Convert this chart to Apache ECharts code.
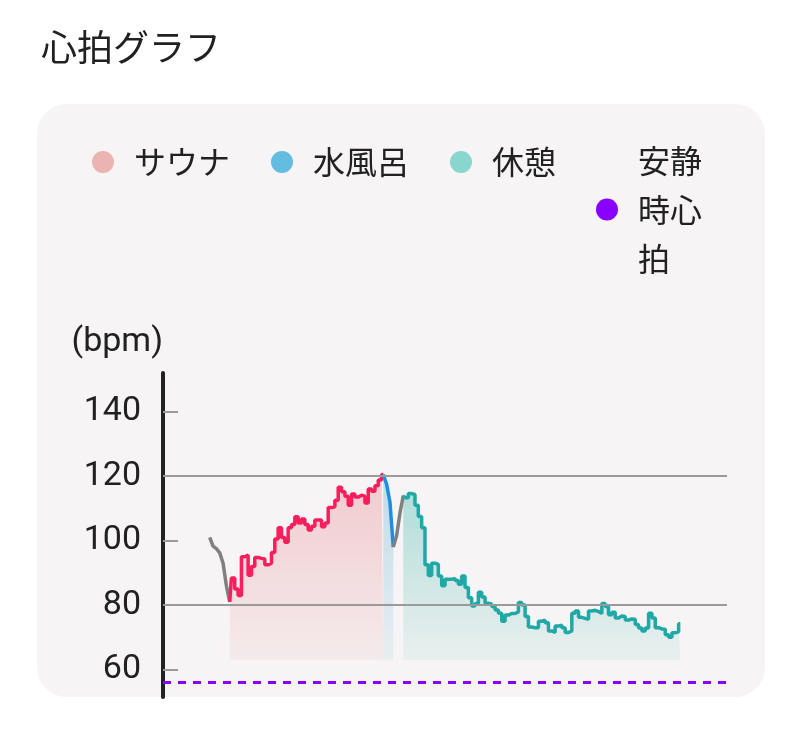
<!DOCTYPE html>
<html>
<head>
<meta charset="utf-8">
<script src="https://cdn.jsdelivr.net/npm/echarts@6/dist/echarts.min.js"></script>
<style>
  html, body { margin: 0; padding: 0; background: #ffffff; }
  #wrap { position: relative; width: 800px; height: 747px; overflow: hidden; }
  #card { position: absolute; left: 37px; top: 104px; width: 728px; height: 593px; border-radius: 30px; background: #f6f4f4; }
  #chart { position: absolute; left: 0; top: 0; width: 800px; height: 747px; }
</style>
</head>
<body>
<div id="wrap">
  <div id="card"></div>
  <div id="chart"></div>
</div>
<script>
// ---- data (sample index -> bpm) ----
const titleText = '心拍グラフ';
const legendNames = ['サウナ', '水風呂', '休憩', '安静時心拍'];
const yTickValues = [60, 80, 100, 120, 140];
const gridValues = [80, 120];
const restingHR = 56;

const preStart = 14;
const preHR = [101, 98.3, 97.5, 96.2, 93, 86, 81];

const saunaStart = 20;
const saunaHR = [81, 88.4, 85, 83, 95, 95.5, 89.3, 92, 94.8, 94.5,
  94.3, 92.5, 93, 96.3, 100.5, 104, 101, 99.5, 104, 105,
  107.4, 105.5, 106.7, 105, 103.3, 104.5, 106.4, 106.4, 104.3, 105.5,
  110.3, 110.5, 112.5, 116.6, 115.2, 113.8, 111, 114.5, 113.5, 114.1,
  113.8, 111.7, 116, 115.3, 117, 118.8, 120.5];

const waterStart = 66;
const waterHR = [120.5, 117.5, 112, 98];

const transStart = 69;
const transHR = [98, 101.5, 108.5, 114];

const restStart = 72;
const restHR = [114, 113.3, 114.6, 114.3, 111, 107.5, 104, 92.5, 89.2, 93,
  92.6, 89, 86, 88, 88, 88.3, 87.6, 86.5, 89, 85.5,
  82.3, 79.7, 80.5, 84, 82.5, 80.6, 80.3, 79.6, 78.5, 77.5,
  75, 76.9, 77.4, 77.4, 77.9, 80.8, 80, 76.5, 73.2, 73,
  73, 75, 75.3, 74.5, 72, 71.5, 73.5, 73.8, 73, 71.5,
  72, 77.5, 78.2, 76.2, 75.9, 75.6, 78.2, 78.4, 78, 77.4,
  80.5, 79.6, 77, 77.8, 76, 76.6, 76.5, 75.4, 75.7, 75.6,
  74, 72.9, 72, 72.9, 77.5, 76, 73, 72.6, 72.5, 70.8,
  70, 71.4, 71.7, 74.2];

const xMin = 0, xMax = 169;
const yMin = 51.5, yMax = 152;
const areaBase = 63;

// ---- build ----
const toPts = (start, arr) => arr.map((v, i) => [start + i, v]);

function grad(rgb, a0, a1) {
  return new echarts.graphic.LinearGradient(0, 0, 0, 1, [
    { offset: 0, color: 'rgba(' + rgb + ',' + a0 + ')' },
    { offset: 1, color: 'rgba(' + rgb + ',' + a1 + ')' }
  ]);
}

const chart = echarts.init(document.getElementById('chart'), null, { renderer: 'canvas' });

const baseLine = { type: 'line', showSymbol: false, symbol: 'none', smooth: false, silent: true, animation: false };
const cjk = "'Noto Sans CJK JP', 'Noto Sans', sans-serif";

const option = {
  backgroundColor: 'transparent',
  animation: false,
  title: {
    text: titleText,
    left: 36, top: 24,
    textStyle: { fontFamily: cjk, fontSize: 36, fontWeight: 'normal', color: '#212121' }
  },
  legend: [
    {
      data: [
        { name: legendNames[0], itemStyle: { color: '#ebb3b1' } },
        { name: legendNames[1], itemStyle: { color: '#63bde0' } },
        { name: legendNames[2], itemStyle: { color: '#88d6cd' } }
      ],
      left: 92, top: 142, padding: 0,
      orient: 'horizontal',
      icon: 'circle', itemWidth: 22, itemHeight: 22, itemGap: 41,
      selectedMode: false,
      textStyle: { fontFamily: cjk, fontSize: 32, color: '#212121', padding: [0, 0, 0, 15], lineHeight: 40 }
    },
    {
      data: [{ name: legendNames[3], itemStyle: { color: '#8a00ff' } }],
      left: 596, top: 136, padding: 0,
      icon: 'circle', itemWidth: 22, itemHeight: 22,
      selectedMode: false,
      textStyle: { fontFamily: cjk, fontSize: 32, color: '#212121', padding: [0, 0, 0, 15],
        width: 70, overflow: 'break', lineHeight: 49 }
    }
  ],
  grid: { left: 163, right: 73, top: 373, bottom: 50, containLabel: false },
  xAxis: { type: 'value', min: xMin, max: xMax, show: false },
  yAxis: {
    type: 'value', min: yMin, max: yMax,
    name: '(bpm)', nameLocation: 'end', nameGap: 31,
    nameTextStyle: { fontFamily: 'Roboto', fontSize: 34, color: '#212121', align: 'right', verticalAlign: 'middle' },
    axisLine: { show: true, lineStyle: { color: '#212121', width: 4 } },
    axisTick: { show: true, inside: true, length: 15, customValues: yTickValues, lineStyle: { color: '#9a9a9a', width: 2 } },
    axisLabel: { show: true, customValues: yTickValues, margin: 22, fontFamily: 'Roboto', fontSize: 34, color: '#212121' },
    splitLine: { show: false }
  },
  series: [
    Object.assign({}, baseLine, {
      name: 'pre', data: toPts(preStart, preHR), z: 3,
      lineStyle: { color: '#808080', width: 3.5 }
    }),
    Object.assign({}, baseLine, {
      name: legendNames[0], data: toPts(saunaStart, saunaHR), z: 3, step: 'middle',
      itemStyle: { color: '#ebb3b1' },
      lineStyle: { color: '#fc1d5c', width: 3.5 },
      areaStyle: { origin: areaBase, color: grad('232,120,130', 0.48, 0.1) }
    }),
    Object.assign({}, baseLine, {
      name: legendNames[1], data: toPts(waterStart, waterHR), z: 3,
      itemStyle: { color: '#63bde0' },
      lineStyle: { color: '#1c8fe2', width: 3.5 },
      areaStyle: { origin: areaBase, color: grad('90,175,215', 0.5, 0.12) }
    }),
    Object.assign({}, baseLine, {
      name: 'trans', data: toPts(transStart, transHR), z: 3,
      lineStyle: { color: '#808080', width: 3.5 }
    }),
    Object.assign({}, baseLine, {
      name: legendNames[2], data: toPts(restStart, restHR), z: 3, step: 'middle',
      itemStyle: { color: '#88d6cd' },
      lineStyle: { color: '#1fa8a6', width: 3.5 },
      areaStyle: { origin: areaBase, color: grad('70,185,175', 0.55, 0.1) },
      markLine: {
        silent: true, symbol: ['none', 'none'], animation: false,
        label: { show: false },
        lineStyle: { color: '#9a9a9a', width: 2, type: 'solid' },
        data: gridValues.map(v => ({ yAxis: v }))
      }
    }),
    Object.assign({}, baseLine, {
      name: legendNames[3], data: [], z: 4,
      itemStyle: { color: '#8a00ff' },
      lineStyle: { color: '#8a00ff', width: 3 },
      markLine: {
        silent: true, symbol: ['none', 'none'], animation: false,
        label: { show: false },
        lineStyle: { color: '#8a00ff', width: 3, type: [8, 7] },
        data: [{ yAxis: restingHR }]
      }
    })
  ]
};

chart.setOption(option);
</script>
</body>
</html>
